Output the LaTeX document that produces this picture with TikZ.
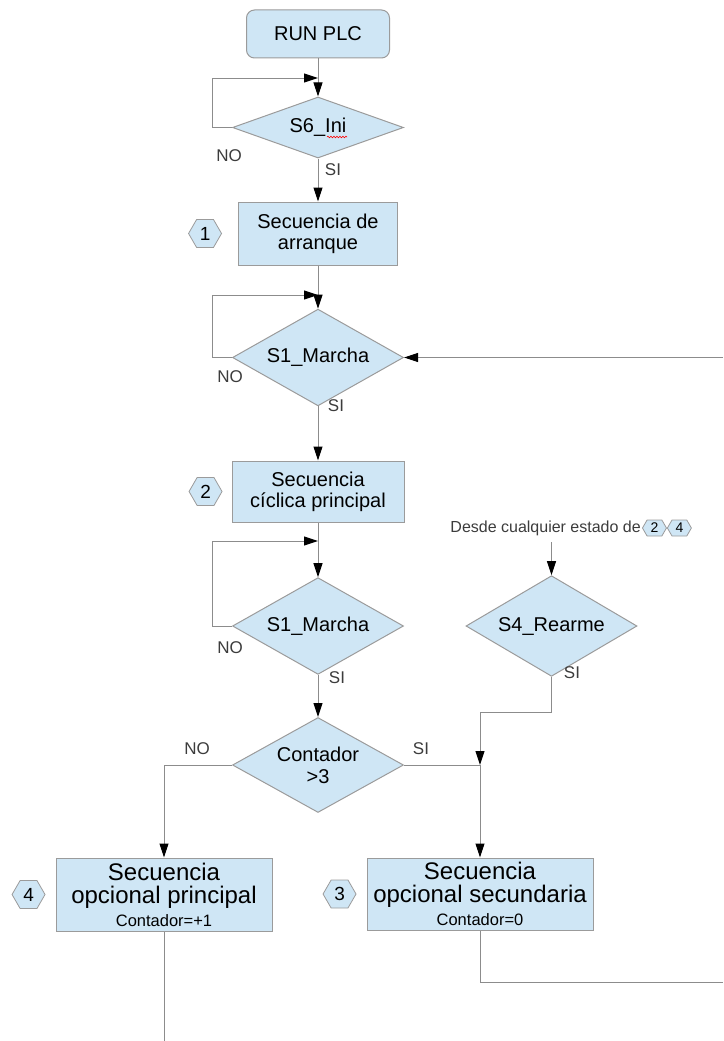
\documentclass[tikz,border=0pt]{standalone}
\usepackage{fontspec}
\setmainfont{Liberation Sans}
\usepackage{tikz}
\usetikzlibrary{shapes.geometric,shapes.symbols,positioning,arrows.meta,decorations.pathmorphing}
\definecolor{azulcaja}{RGB}{207,230,245}
\definecolor{bordecaja}{RGB}{155,155,155}
\definecolor{gris}{RGB}{140,140,140}
\definecolor{textogris}{RGB}{60,60,60}
\newcommand{\tam}[2]{\fontsize{#1}{#2}\selectfont}

\begin{document}
\begin{tikzpicture}
	[
		x=1pt, y=-1pt,
		caja/.style={draw=bordecaja, fill=azulcaja, line width=1pt, inner sep=0pt, align=center, font=\tam{20}{21}},
		inicio/.style={caja, rounded corners=8pt, minimum width=143pt, minimum height=48pt},
		pregunta/.style={diamond, draw=bordecaja, fill=azulcaja, line width=1pt, inner sep=-6pt, minimum width=171pt, minimum height=61pt, align=center, font=\tam{20}{22}},
		etiq/.style={signal, signal to=west and east, signal pointer angle=120, draw=bordecaja, fill=azulcaja, line width=0.8pt, inner sep=0pt, minimum width=33pt, minimum height=28pt, font=\tam{19}{19}},
		etiqp/.style={etiq, minimum width=24pt, minimum height=16pt, font=\tam{14}{14}},
		conector/.style={draw=gris, line width=1pt},
		flecha/.style={conector, -{Triangle[length=14pt,width=9pt,color=black]}},
		resp/.style={text=textogris, inner sep=0pt, font=\tam{17}{17}}
	]
	\useasboundingbox (0,0) rectangle (723,1041);

	\node(run) [inicio] at (318,34) {RUN PLC};
	\node(d6) [pregunta] at (318,127.5) {S6\_Ini};
	\node(b1) [caja, minimum width=159pt, minimum height=63pt] at (318,233.5) {Secuencia de\\arranque};
	\node(d1a) [pregunta] at (318,357.5) {S1\_Marcha};
	\node(b2) [caja, minimum width=172pt, minimum height=61pt] at (318,491.5) {Secuencia\\cíclica principal};
	\node(d1b) [pregunta] at (318,626) {S1\_Marcha};
	\node(dc) [pregunta, minimum height=70pt] at (318,765) {Contador\\>3};
	\node(b4) [caja, font=\tam{24}{23}, minimum width=216pt, minimum height=73pt] at (164,894.5)
		{Secuencia\\opcional principal\\{\tam{16.5}{16}Contador=+1}};
	\node(b3) [caja, font=\tam{24}{23}, minimum width=226pt, minimum height=72pt] at (480,894)
		{Secuencia\\opcional secundaria\\{\tam{16.5}{16}Contador=0}};
	\node(d4) [pregunta] at (551.5,626) {S4\_Rearme};

	\node(desde) [anchor=east, text=textogris, inner sep=0pt, font=\tam{16}{16}] at (641,528) {Desde cualquier estado de};
	\node(p2) [etiqp, right=1pt of desde] {2};
	\node(p4) [etiqp, right=0pt of p2] {4};

	\foreach \n/\b/\d in {1/b1/16pt, 2/b2/9pt, 3/b3/10pt, 4/b4/10pt}
		\node(h\n) [etiq, left=\d of \b] {\n};

%	red mark under Ini
	\draw[red, line width=0.6pt, decorate, decoration={snake, amplitude=0.8pt, segment length=3pt}] (327,137) -- (347,137);

	\coordinate(j6) at (318,78);
	\coordinate(j1a) at (318,295);
	\coordinate(j1b) at (318,541);
	\coordinate(ret) at (723,357.5);
	\coordinate(d4in) at (551.5,542);
	\coordinate(k4) at (480,712);
	\coordinate(jc) at (480,765);
	\coordinate(s3) at (723,982);
	\coordinate(s4) at (164,1041);

	\draw[flecha] (run) -- (d6);
	\draw[flecha] (d6) -- (b1);
	\draw[flecha] (b1) -- (d1a);
	\draw[flecha] (d1a) -- (b2);
	\draw[flecha] (b2) -- (d1b);
	\draw[flecha] (d1b) -- (dc);
	\foreach \d/\j in {d6/j6, d1a/j1a, d1b/j1b}
		\draw[flecha] (\d.west) -- ++(-20,0) |- (\j);
	\draw[flecha] (ret) -- (d1a.east);
	\draw[flecha] (dc.west) -| (b4.north);
	\draw[conector] (dc.east) -- (jc);
	\draw[flecha] (jc) -- (b3);
	\draw[flecha] (d4in) -- (d4);
	\draw[flecha] (d4.south) |- (k4) -- (jc);
	\draw[conector] (b3.south) |- (s3);
	\draw[conector] (b4.south) -- (s4);

	\node(no6) [resp] at (229,156) {NO};
	\node(si6) [resp] at (333,170) {SI};
	\node(no1a) [resp] at (230,377) {NO};
	\node(si1a) [resp] at (336,406) {SI};
	\node(no1b) [resp] at (230,648) {NO};
	\node(si1b) [resp] at (337,678) {SI};
	\node(noc) [resp] at (197,749) {NO};
	\node(sic) [resp] at (421,749) {SI};
	\node(si4) [resp] at (572,673) {SI};
\end{tikzpicture}
\end{document}
